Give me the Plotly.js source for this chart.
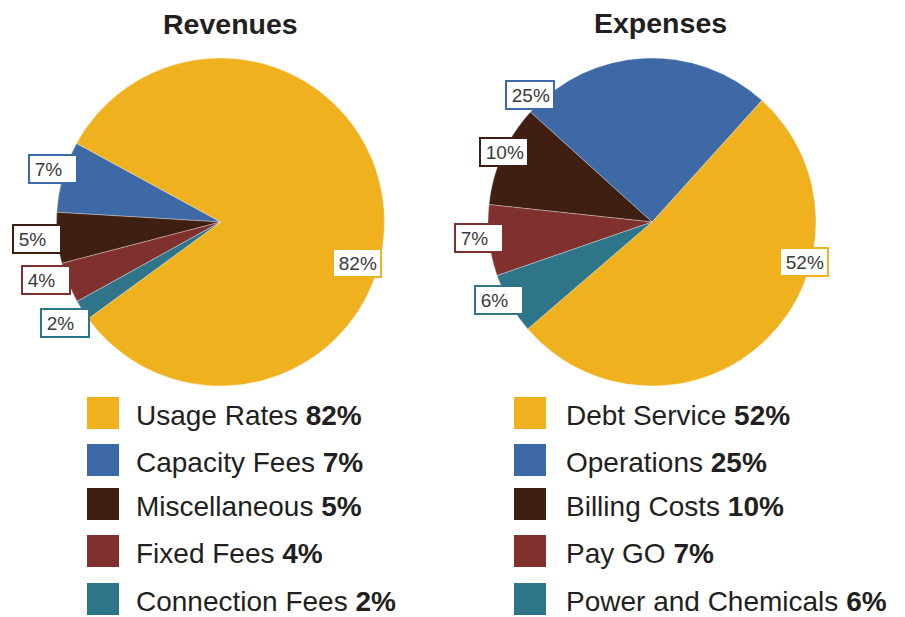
<!DOCTYPE html>
<html>
<head>
<meta charset="utf-8">
<script src="https://cdn.plot.ly/plotly-3.0.1.min.js"></script>
<style>html,body{margin:0;padding:0;background:#fff;}#chart{width:905px;height:617px;}</style>
</head>
<body>
<div id="chart"></div>
<script>
// ---- data ----
const revTitle = 'Revenues';
const revLabels = ['Usage Rates', 'Capacity Fees', 'Miscellaneous', 'Fixed Fees', 'Connection Fees'];
const revValues = [82, 7, 5, 4, 2];

const expTitle = 'Expenses';
const expLabels = ['Debt Service', 'Operations', 'Billing Costs', 'Pay GO', 'Power and Chemicals'];
const expValues = [52, 25, 10, 7, 6];

// ---- styles / layout config ----
const sliceColors = ['#F0B11E', '#3D69A7', '#3E1F12', '#80302D', '#2E758A'];
const W = 905, H = 617;
const FONT = '"Liberation Sans", Arial, Helvetica, sans-serif';

// label box centres (pixels) for each slice, in the same order as the data
const revLabelPos = [[357, 262.5], [53, 169], [37, 238.5], [45.5, 280.5], [64.5, 322.5]];
const expLabelPos = [[804, 262.3], [530, 95.3], [504.3, 151.7], [479, 238], [499, 299.5]];

const px = x => x / W;
const py = y => 1 - y / H;

function pieTrace(labels, values, domX, rotation) {
  return {
    type: 'pie', labels: labels, values: values, sort: false,
    direction: 'counterclockwise', rotation: rotation,
    textinfo: 'none', showlegend: false, hole: 0,
    marker: {colors: sliceColors, line: {color: 'rgba(255,255,255,0.55)', width: 0.6}},
    domain: {x: [px(domX[0]), px(domX[1])], y: [py(386), py(58)]}
  };
}

const data = [
  pieTrace(revLabels, revValues, [56.5, 384.5], -61.4),
  pieTrace(expLabels, expValues, [488, 816], 42.1)
];

const annotations = [];
const shapes = [];

function titleAnn(text, x, y) {
  annotations.push({
    text: '<b>' + text + '</b>', xref: 'paper', yref: 'paper', x: px(x), y: py(y),
    xanchor: 'center', yanchor: 'middle', showarrow: false,
    font: {family: FONT, size: 28.5, color: '#231f20'}
  });
}
titleAnn(revTitle, 230, 24);
titleAnn(expTitle, 660, 23);

function pctLabels(values, pos) {
  values.forEach((v, i) => {
    annotations.push({
      text: '&#8201;' + v + '%', xref: 'paper', yref: 'paper',
      x: px(pos[i][0]), y: py(pos[i][1]), xanchor: 'center', yanchor: 'middle',
      showarrow: false, align: 'left', valign: 'middle',
      width: 44, height: 24, borderpad: 1, borderwidth: 2,
      bordercolor: sliceColors[i], bgcolor: '#ffffff',
      font: {family: FONT, size: 19, color: '#3a3a3a'}
    });
  });
}
pctLabels(revValues, revLabelPos);
pctLabels(expValues, expLabelPos);

const legendRowTops = [397, 444, 488, 535, 583];
function legendBlock(labels, values, sqX, textX) {
  labels.forEach((lab, i) => {
    const top = legendRowTops[i];
    shapes.push({
      type: 'rect', xref: 'paper', yref: 'paper',
      x0: px(sqX), x1: px(sqX + 32), y0: py(top + 32), y1: py(top),
      fillcolor: sliceColors[i], line: {width: 0}
    });
    annotations.push({
      text: lab + ' <b>' + values[i] + '%</b>', xref: 'paper', yref: 'paper',
      x: px(textX), y: py(top + 18.5), xanchor: 'left', yanchor: 'middle',
      showarrow: false, borderpad: 0,
      font: {family: FONT, size: 28, color: '#231f20'}
    });
  });
}
legendBlock(revLabels, revValues, 87, 135);
legendBlock(expLabels, expValues, 514, 565);

const layout = {
  width: W, height: H,
  margin: {l: 0, r: 0, t: 0, b: 0},
  paper_bgcolor: '#ffffff', plot_bgcolor: '#ffffff',
  font: {family: FONT},
  showlegend: false,
  annotations: annotations, shapes: shapes
};

Plotly.newPlot('chart', data, layout, {displayModeBar: false, staticPlot: true});
</script>
</body>
</html>
